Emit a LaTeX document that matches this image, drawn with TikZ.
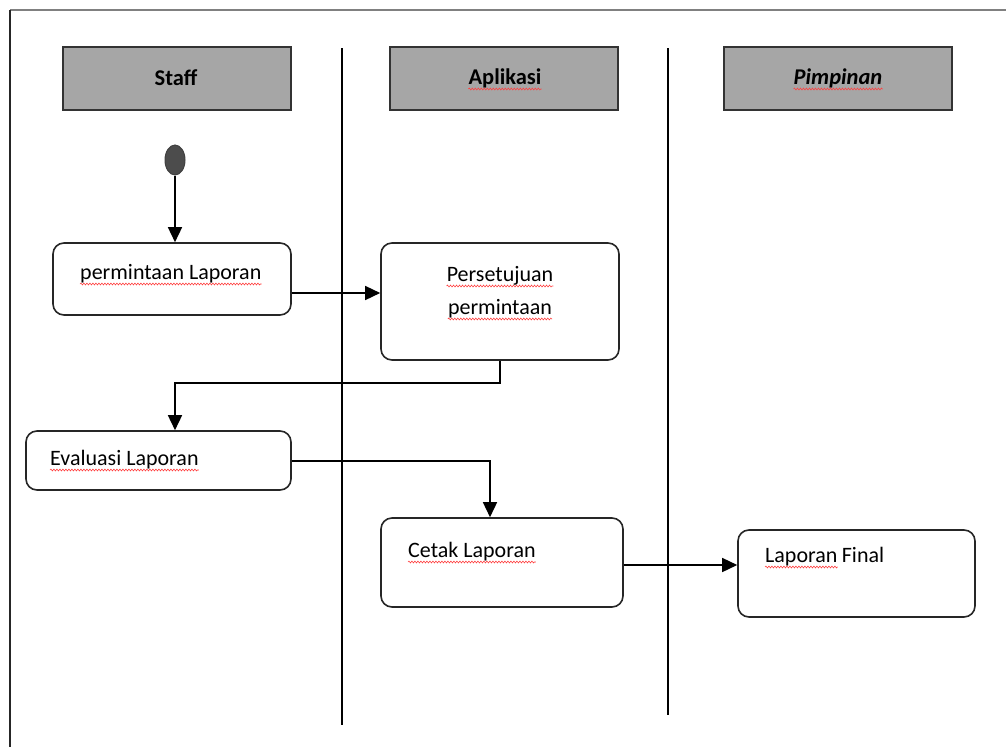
\documentclass[tikz,border=0pt]{standalone}
\usepackage{fontspec}
\setmainfont{Carlito}
\usetikzlibrary{arrows.meta,decorations.pathmorphing,calc,shapes.geometric}
\begin{document}
\begin{tikzpicture}[x=1pt,y=-1pt,
  hdr/.style={draw=black!80,line width=1.6pt,fill=black!35,minimum width=228pt,minimum height=63pt,inner sep=0pt},
  hfont/.style={font=\fontsize{22.5}{26}\selectfont\bfseries},
  act/.style={draw=black!85,line width=1.6pt,rounded corners=11pt,fill=white,inner sep=0pt},
  txt/.style={inner sep=0pt,anchor=base west,font=\fontsize{22}{26}\selectfont},
  squig/.style={draw=red!75,line width=0.6pt,decorate,decoration={snake,amplitude=0.9pt,segment length=3pt}},
  lane/.style={draw=black,line width=1.2pt},
  flow/.style={draw=black,line width=1.5pt,-{Triangle[length=15pt,width=14pt]}}]
\useasboundingbox (0,0) rectangle (1006,747);
% frame
\draw[black!50,line width=2pt] (10,10) -- (1006,10);
\draw[black!85,line width=1.5pt] (10,10) -- (10,747);
% lanes
\coordinate (l1t) at (342,48); \coordinate (l1b) at (342,725);
\coordinate (l2t) at (668,48); \coordinate (l2b) at (668,715);
\draw[lane] (l1t) -- (l1b);
\draw[lane] (l2t) -- (l2b);
% headers
\node[hdr] (hs) at (177,78.5) {};
\node[txt,hfont,anchor=base] (ths) at (176,85) {Staff};
\node[hdr] (ha) at (504,78.5) {};
\node[txt,hfont,anchor=base] (tha) at (505,84) {Aplikasi};
\node[hdr] (hp) at (838,78.5) {};
\node[txt,hfont,anchor=base,font=\fontsize{22.5}{26}\selectfont\bfseries\itshape] (thp) at (838,84) {Pimpinan};
\draw[squig] ([yshift=-5pt]tha.base west) -- ([yshift=-5pt]tha.base east);
\draw[squig] ([yshift=-5pt]thp.base west) -- ([yshift=-5pt]thp.base east);
% start
\node[ellipse,fill=black!70,draw=black!75,line width=1pt,minimum width=20pt,minimum height=30pt,inner sep=0pt] (start) at (175,160) {};
% activities
\node[act,minimum width=238pt,minimum height=72pt] (b1) at (172,279) {};
\node[txt] (t1) at (80,279) {permintaan Laporan};
\node[act,minimum width=238pt,minimum height=117pt] (b2) at (500,301.5) {};
\node[txt,anchor=base] (t2a) at (500,281) {Persetujuan};
\node[txt,anchor=base] (t2b) at (500,314) {permintaan};
\node[act,minimum width=265pt,minimum height=59pt] (b3) at (158.5,460.5) {};
\node[txt] (t3) at (50,465) {Evaluasi Laporan};
\node[act,minimum width=242pt,minimum height=89pt] (b4) at (502,562.5) {};
\node[txt] (t4) at (408,557) {Cetak Laporan};
\node[act,minimum width=237pt,minimum height=87pt] (b5) at (856.5,573.5) {};
\node[txt] (t5a) at (765,562) {Laporan};
\node[txt] (t5b) at ([xshift=4pt]t5a.base east) {Final};
% squiggles
\foreach \t in {t1,t2a,t2b,t3,t4,t5a}
  \draw[squig] ([yshift=-5pt]\t.base west) -- ([yshift=-5pt]\t.base east);
% flows
\draw[flow] (start.south) -- (b1.north -| start.south);
\draw[flow] (b1.east |- 0,293) -- (b2.west |- 0,293);
\coordinate (k1) at (500,383);
\coordinate (k2) at (175,383);
\draw[flow] (b2.south) -- (k1) -- (k2) -- (b3.north -| k2);
\coordinate (k3) at (490,461);
\draw[flow] (b3.east |- k3) -- (k3) -- (b4.north -| k3);
\draw[flow] (b4.east |- 0,565) -- (b5.west |- 0,565);
\end{tikzpicture}
\end{document}
